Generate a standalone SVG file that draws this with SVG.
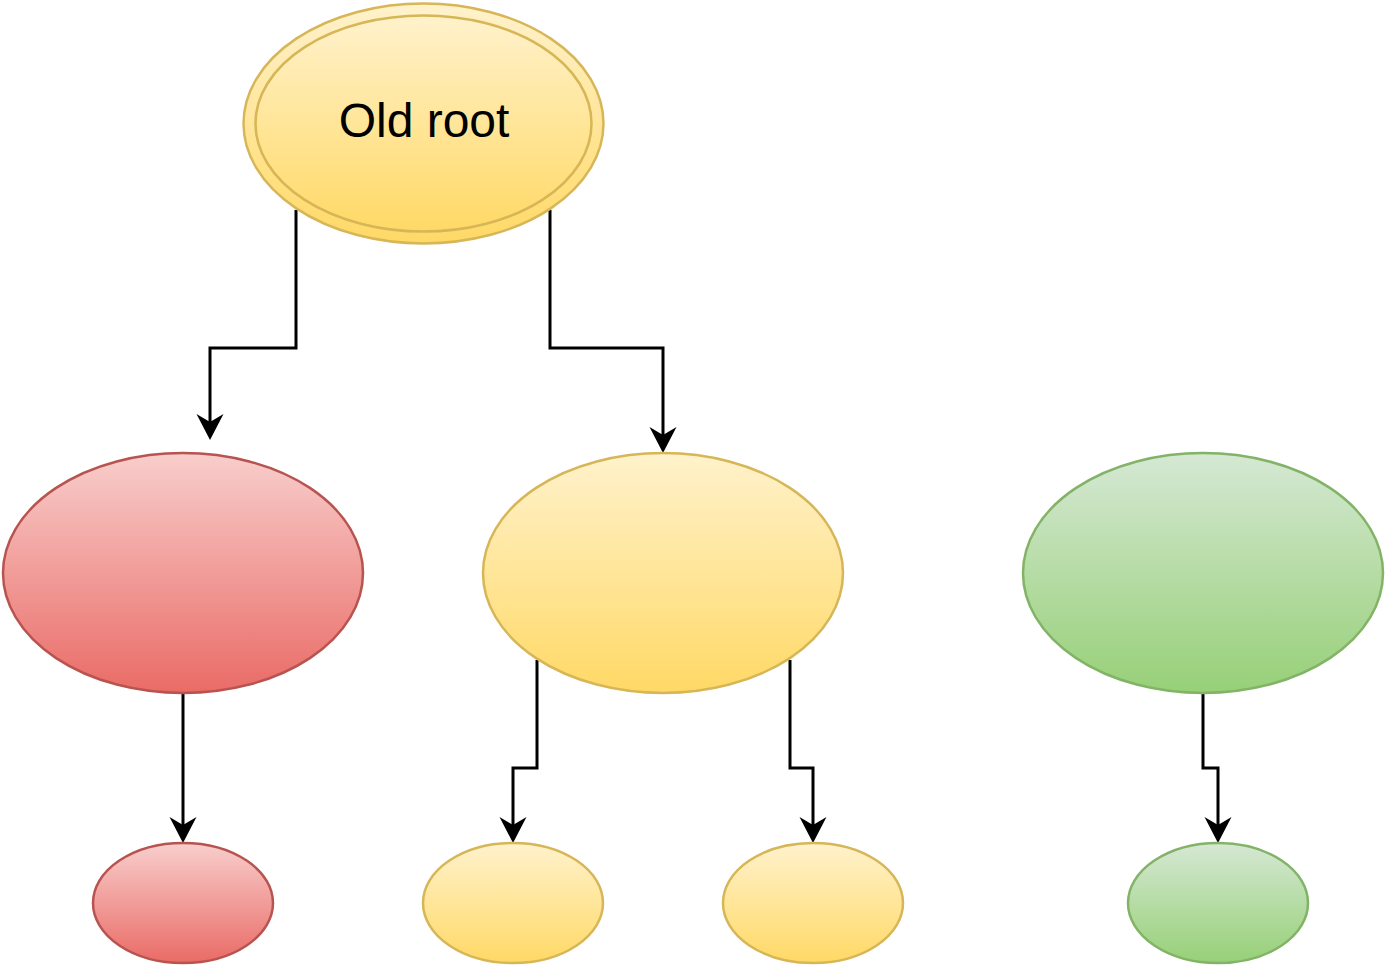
<svg xmlns="http://www.w3.org/2000/svg" width="1387" height="967" viewBox="0 0 1387 967">
<style>
.y{fill:url(#gy);stroke:#d6b656;stroke-width:2.5}
.r{fill:url(#gr);stroke:#b85450;stroke-width:2.5}
.g{fill:url(#gg);stroke:#82b366;stroke-width:2.5}
.e{fill:none;stroke:#000;stroke-width:3;marker-end:url(#ah)}
.t{font-family:"Liberation Sans",Arial,sans-serif;font-size:48px;fill:#000;text-anchor:middle}
</style>
<defs>
<linearGradient id="gy" x1="0" y1="0" x2="0" y2="1"><stop offset="0" stop-color="#fff2cc"/><stop offset="1" stop-color="#ffd966"/></linearGradient>
<linearGradient id="gr" x1="0" y1="0" x2="0" y2="1"><stop offset="0" stop-color="#f8cecc"/><stop offset="1" stop-color="#ea6b66"/></linearGradient>
<linearGradient id="gg" x1="0" y1="0" x2="0" y2="1"><stop offset="0" stop-color="#d5e8d4"/><stop offset="1" stop-color="#97d077"/></linearGradient>
<marker id="ah" markerUnits="userSpaceOnUse" markerWidth="30" markerHeight="30" refX="8" refY="14" orient="auto" viewBox="0 0 30 30">
<path d="M0,0.5 L26,14 L0,27.5 L8,14 Z" fill="#000"/>
</marker>
</defs>
<g id="edges">
<path class="e" d="M296,210 V348 H210 V422"/>
<path class="e" d="M550,210 V348 H663 V435"/>
<path class="e" d="M183,693 V825"/>
<path class="e" d="M537,660 V768 H513 V825"/>
<path class="e" d="M790,660 V768 H813 V825"/>
<path class="e" d="M1203,693 V768 H1218 V825"/>
</g>
<g id="root">
<ellipse class="y" cx="423.5" cy="123.5" rx="180" ry="120"/>
<ellipse class="y" cx="423.5" cy="123.5" rx="168" ry="108"/>
<text class="t" x="424" y="137">Old root</text>
</g>
<g id="red-big"><ellipse class="r" cx="183" cy="573" rx="180" ry="120"/></g>
<g id="yellow-big"><ellipse class="y" cx="663" cy="573" rx="180" ry="120"/></g>
<g id="green-big"><ellipse class="g" cx="1203" cy="573" rx="180" ry="120"/></g>
<g id="red-small"><ellipse class="r" cx="183" cy="903" rx="90" ry="60"/></g>
<g id="yellow-small-1"><ellipse class="y" cx="513" cy="903" rx="90" ry="60"/></g>
<g id="yellow-small-2"><ellipse class="y" cx="813" cy="903" rx="90" ry="60"/></g>
<g id="green-small"><ellipse class="g" cx="1218" cy="903" rx="90" ry="60"/></g>
</svg>
